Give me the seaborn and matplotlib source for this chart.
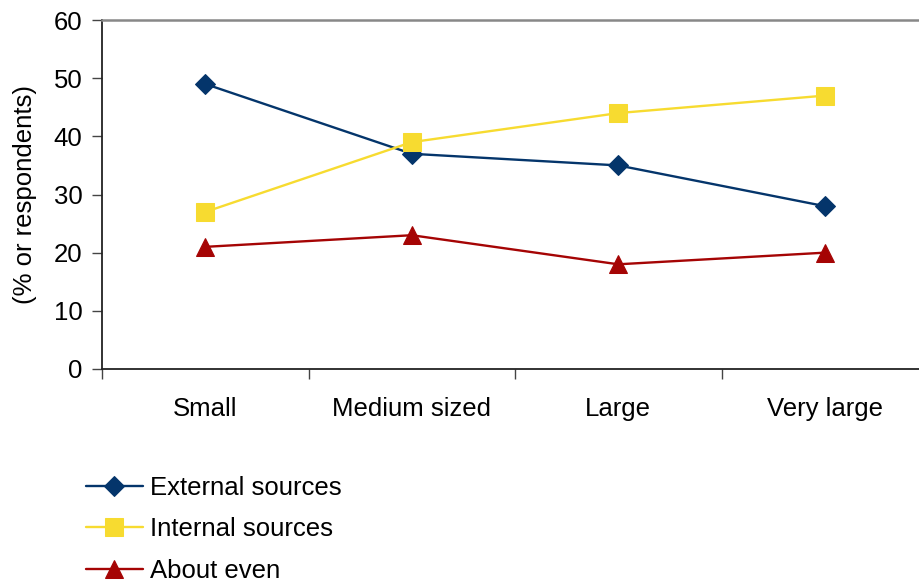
import matplotlib
matplotlib.use("Agg")
import matplotlib.pyplot as plt
import seaborn as sns
import pandas as pd

categories = ["Small", "Medium sized", "Large", "Very large"]
external_sources = [49, 37, 35, 28]
internal_sources = [27, 39, 44, 47]
about_even = [21, 23, 18, 20]
series_names = ["External sources", "Internal sources", "About even"]
y_ticks = [0, 10, 20, 30, 40, 50, 60]

colors = {"External sources": "#04356B",
          "Internal sources": "#F7DB30",
          "About even": "#A50404"}
markers = {"External sources": "D",
           "Internal sources": "s",
           "About even": "^"}
sizes = {"External sources": 10, "Internal sources": 12.5, "About even": 12.5}

rows = []
for name, vals in zip(series_names, [external_sources, internal_sources, about_even]):
    for i, (cat, v) in enumerate(zip(categories, vals)):
        rows.append({"category": cat, "pos": i, "value": v, "series": name})
df = pd.DataFrame(rows)

sns.set_style("white")
plt.rcParams["font.family"] = ["Liberation Sans", "DejaVu Sans"]
plt.rcParams["text.color"] = "black"
plt.rcParams["xtick.color"] = "black"
plt.rcParams["ytick.color"] = "black"
plt.rcParams["axes.labelcolor"] = "black"

FS = 18.5

fig = plt.figure(figsize=(9.19, 5.85), dpi=100)
ax = fig.add_axes([102 / 919, 1 - 369 / 585, 826 / 919, 349 / 585])

for name in series_names:
    sub = df[df["series"] == name]
    sns.lineplot(data=sub, x="pos", y="value", ax=ax, color=colors[name],
                 marker=markers[name], markersize=sizes[name],
                 markeredgecolor=colors[name], linewidth=1.7, label=name)

ax.set_xlim(-0.5, 3.5)
ax.set_ylim(0, 60)
ax.set_yticks(y_ticks)
ax.set_yticklabels([str(t) for t in y_ticks], fontsize=FS)
ax.set_xticks([-0.5, 0.5, 1.5, 2.5, 3.5])
ax.set_xticklabels([])
ax.set_xticks(range(len(categories)), minor=True)
ax.set_xticklabels(categories, minor=True, fontsize=FS)
ax.tick_params(axis="x", which="minor", length=0, pad=20)
ax.tick_params(axis="x", which="major", direction="out", length=7, width=1, color="#444444", bottom=True)
ax.tick_params(axis="y", direction="out", length=7, width=1, color="#444444", left=True, pad=7)
ax.set_xlabel("")
ax.set_ylabel("(% or respondents)", fontsize=FS, labelpad=12)

for s in ["left", "bottom"]:
    ax.spines[s].set_color("#222222")
    ax.spines[s].set_linewidth(1.3)
ax.spines["top"].set_color("#888888")
ax.spines["top"].set_linewidth(1.8)
ax.spines["right"].set_visible(False)

ax.get_legend().remove()
handles, labels = ax.get_legend_handles_labels()
fig.legend(handles, labels, loc="upper left", bbox_to_anchor=(86 / 919, 1 - 476 / 585),
           frameon=False, fontsize=FS, handlelength=2.2, handletextpad=0.28,
           labelspacing=0.68, borderaxespad=0, borderpad=0)

fig.savefig("out.png", dpi=100)
